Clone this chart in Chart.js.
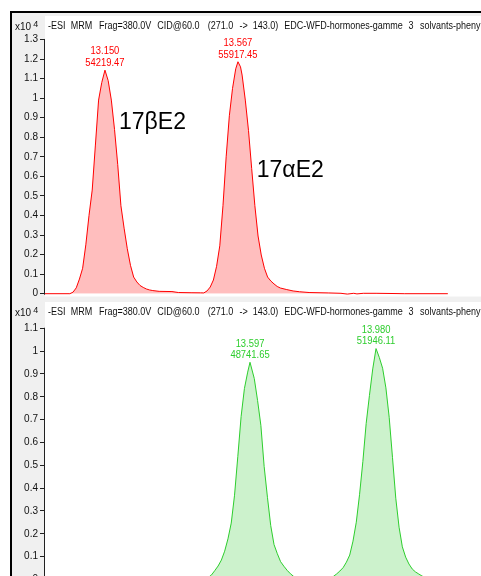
<!DOCTYPE html>
<html><head><meta charset="utf-8">
<script src="https://cdn.jsdelivr.net/npm/chart.js@4.4.1/dist/chart.umd.min.js"></script>
<style>
html,body{margin:0;padding:0;background:#fff;overflow:hidden;width:481px;height:576px;}
canvas{position:absolute;left:0;}
#c1{top:0;} #c2{top:300px;}
</style></head><body>
<canvas id="c1" width="481" height="300"></canvas>
<canvas id="c2" width="481" height="290"></canvas>
<script>
// ---------- data ----------
const titleText = '-ESI MRM Frag=380.0V CID@60.0 (271.0 -> 143.0) EDC-WFD-hormones-gamme 3 solvants-phenyl';
const multiplierText = 'x10';
const exponentText = '4';
const yTicksTop = [0, 0.1, 0.2, 0.3, 0.4, 0.5, 0.6, 0.7, 0.8, 0.9, 1, 1.1, 1.2, 1.3];
const yTicksBottom = [0, 0.1, 0.2, 0.3, 0.4, 0.5, 0.6, 0.7, 0.8, 0.9, 1, 1.1];

const topTimes = [12.962, 13.04, 13.05, 13.06, 13.07, 13.08, 13.09, 13.10, 13.11, 13.12, 13.13, 13.14, 13.15,
  13.16, 13.17, 13.18, 13.19, 13.20, 13.21, 13.22, 13.23, 13.24, 13.25, 13.26, 13.27, 13.28, 13.29, 13.30,
  13.32, 13.36, 13.38, 13.42, 13.45, 13.46, 13.47, 13.48, 13.49, 13.50, 13.51, 13.52, 13.53, 13.54, 13.55,
  13.56, 13.567, 13.575, 13.58, 13.59, 13.60, 13.61, 13.62, 13.63, 13.64, 13.65, 13.66, 13.67, 13.68, 13.69,
  13.70, 13.72, 13.74, 13.76, 13.79, 13.85, 13.89, 13.91, 13.93, 13.94, 13.96, 14.00, 14.05, 14.09, 14.225];
const topSignal = [0, 0, 0.008, 0.03, 0.075, 0.13, 0.25, 0.40, 0.53, 0.76, 0.99, 1.08, 1.143,
  1.09, 0.99, 0.84, 0.66, 0.45, 0.335, 0.23, 0.145, 0.085, 0.06, 0.042, 0.032, 0.024, 0.019, 0.016,
  0.012, 0.011, 0.006, 0.005, 0.0045, 0.004, 0.014, 0.034, 0.07, 0.14, 0.245, 0.45, 0.70, 0.91, 1.05,
  1.15, 1.186, 1.16, 1.118, 0.99, 0.835, 0.64, 0.45, 0.295, 0.198, 0.13, 0.085, 0.065, 0.05, 0.037,
  0.029, 0.021, 0.014, 0.010, 0.006, 0.004, 0.002, -0.002, 0.002, -0.001, 0.002, 0.002, 0.001, 0, 0];

const bottomTimes = [12.974, 13.40, 13.44, 13.46, 13.47, 13.48, 13.49, 13.50, 13.51, 13.52, 13.53, 13.54, 13.55,
  13.56, 13.57, 13.58, 13.59, 13.597, 13.61, 13.62, 13.63, 13.64, 13.65, 13.66, 13.67, 13.68, 13.69, 13.70,
  13.71, 13.72, 13.73, 13.74, 13.76, 13.80, 13.84, 13.85, 13.86, 13.87, 13.88, 13.89, 13.90, 13.91, 13.92,
  13.93, 13.94, 13.95, 13.96, 13.97, 13.98, 13.99, 14.00, 14.01, 14.02, 14.03, 14.04, 14.05, 14.06, 14.07,
  14.08, 14.09, 14.10, 14.11, 14.12, 14.13, 14.15, 14.22];
const bottomSignal = [0.001, 0.001, 0.002, 0.004, 0.009, 0.02, 0.039, 0.059, 0.085, 0.124, 0.178, 0.247, 0.369,
  0.539, 0.714, 0.836, 0.908, 0.951, 0.88, 0.784, 0.675, 0.495, 0.36, 0.236, 0.153, 0.113, 0.078, 0.058,
  0.04, 0.025, 0.013, 0.007, 0.002, 0.001, 0.005, 0.013, 0.024, 0.037, 0.052, 0.076, 0.107, 0.168, 0.251,
  0.373, 0.517, 0.683, 0.806, 0.922, 1.011, 0.972, 0.925, 0.839, 0.71, 0.535, 0.356, 0.229, 0.143, 0.098,
  0.068, 0.046, 0.033, 0.024, 0.015, 0.009, 0.003, 0.001];

const topPeakRT = [13.150, 13.567];
const topPeakArea = ['54219.47', '55917.45'];
const bottomPeakRT = [13.597, 13.980];
const bottomPeakArea = ['48741.65', '51946.11'];
const compoundNames = ['17\u03B2E2', '17\u03B1E2'];

// ---------- drawing ----------
const FAMILY = "'Liberation Sans', Arial, sans-serif";
const titleX = [48, 70.7, 99, 157.3, 207.7, 239.5, 252.7, 284.3, 408.5, 420];
const AXIS_COLOR = '#222222';

function fmtTick(v) { return String(Number(v.toFixed(1))); }

function squeezeText(ctx, s, x, y, f) {
  const w = ctx.measureText(s).width;
  ctx.fillText(s, x, y, w * f);
}

function panelPlugin(opt) {
  return {
    id: 'panel' + opt.key,
    beforeDraw(chart) {
      const ctx = chart.ctx, W = chart.width, H = chart.height;
      ctx.save();
      ctx.fillStyle = '#ffffff'; ctx.fillRect(0, 0, W, H);
      ctx.fillStyle = '#f0f0f0';
      if (opt.key === 'top') {
        ctx.fillRect(12, 13, W - 12, H - 13);
        ctx.fillStyle = '#000000';
        ctx.fillRect(10, 11, W - 10, 2);
        ctx.fillRect(10, 11, 2, H - 11);
        ctx.fillStyle = '#ffffff';
        ctx.fillRect(45, 16, W - 45, 280.5);
      } else {
        ctx.fillRect(12, 0, W - 12, H);
        ctx.fillStyle = '#000000';
        ctx.fillRect(10, 0, 2, H);
        ctx.fillStyle = '#ffffff';
        ctx.fillRect(45, 2, W - 45, H - 2);
      }
      ctx.restore();
    },
    afterDraw(chart) {
      const ctx = chart.ctx, xs = chart.scales.x, ys = chart.scales.y;
      const top = chart.chartArea.top;
      ctx.save();
      // axis line from top tick down to zero
      const yTop = ys.getPixelForValue(opt.yticks[opt.yticks.length - 1]);
      const yBot = ys.getPixelForValue(0);
      ctx.strokeStyle = AXIS_COLOR; ctx.lineWidth = 1;
      ctx.beginPath(); ctx.moveTo(44.5, yTop - 0.5); ctx.lineTo(44.5, yBot + 1); ctx.stroke();

      ctx.textBaseline = 'middle';
      ctx.fillStyle = '#111111';
      ctx.textAlign = 'left';
      ctx.font = '10px ' + FAMILY;
      ctx.fillText(multiplierText, 15, top + 11);
      ctx.font = '9px ' + FAMILY;
      ctx.fillText(exponentText, 33.3, top + 9);
      // title
      ctx.font = '10px ' + FAMILY;
      titleText.split(' ').forEach((s, i) => squeezeText(ctx, s, titleX[i], top + 10.5, 0.9));
      // peak labels
      ctx.fillStyle = opt.line;
      ctx.textAlign = 'center';
      opt.rts.forEach((rt, i) => {
        let m = 0;
        opt.times.forEach((t, j) => { if (Math.abs(t - rt) < 0.02 && opt.values[j] > m) m = opt.values[j]; });
        const px = xs.getPixelForValue(rt), py = ys.getPixelForValue(m);
        squeezeText(ctx, rt.toFixed(3), px, py - 18.5, 0.94);
        squeezeText(ctx, opt.areas[i], px, py - 7, 0.94);
      });
      // compound names
      if (opt.names) {
        ctx.fillStyle = '#000000';
        ctx.textAlign = 'left';
        ctx.font = '23px ' + FAMILY;
        const anchors = [[13.194, 0.877], [13.626, 0.627]];
        opt.names.forEach((n, i) => {
          ctx.fillText(n, xs.getPixelForValue(anchors[i][0]), ys.getPixelForValue(anchors[i][1]));
        });
      }
      ctx.restore();
    }
  };
}

function makePanel(canvasId, opt) {
  const data = opt.times.map((t, i) => ({ x: t, y: opt.values[i] }));
  return new Chart(document.getElementById(canvasId), {
    type: 'line',
    data: { datasets: [{
      data: data,
      borderColor: opt.line,
      backgroundColor: opt.fill,
      borderWidth: 1,
      fill: 'origin',
      pointRadius: 0,
      tension: 0,
      clip: { left: 0, right: 0, top: 0, bottom: 3 }
    }]},
    options: {
      responsive: false,
      animation: false,
      devicePixelRatio: 1,
      layout: { padding: opt.padding },
      plugins: { legend: { display: false }, tooltip: { enabled: false }, title: { display: false } },
      scales: {
        x: { type: 'linear', display: false, min: opt.xmin, max: opt.xmax },
        y: {
          type: 'linear', min: 0, max: opt.ymax,
          afterBuildTicks: s => { s.ticks = opt.yticks.map(v => ({ value: v })); },
          afterFit: s => { s.width = 45; s.paddingTop = 0; s.paddingBottom = 0; },
          ticks: {
            autoSkip: false, padding: 2, color: '#111111',
            font: { family: FAMILY, size: 10 },
            callback: v => fmtTick(v)
          },
          grid: { drawOnChartArea: false, tickLength: 5, color: AXIS_COLOR, tickColor: AXIS_COLOR },
          border: { display: false }
        }
      }
    },
    plugins: [panelPlugin(opt)]
  });
}

makePanel('c1', {
  key: 'top', times: topTimes, values: topSignal, rts: topPeakRT, areas: topPeakArea,
  names: compoundNames, line: '#ff0000', fill: 'rgb(255,190,190)',
  xmin: 12.962, xmax: 14.329, ymax: 1.42, yticks: yTicksTop,
  padding: { top: 16, bottom: 6.3, left: 0, right: 0 }
});
makePanel('c2', {
  key: 'bottom', times: bottomTimes, values: bottomSignal, rts: bottomPeakRT, areas: bottomPeakArea,
  names: null, line: 'rgb(45,205,45)', fill: 'rgb(204,242,204)',
  xmin: 12.974, xmax: 14.299, ymax: 1.215, yticks: yTicksBottom,
  padding: { top: 2, bottom: 10.5, left: 0, right: 0 }
});
</script>
</body></html>
